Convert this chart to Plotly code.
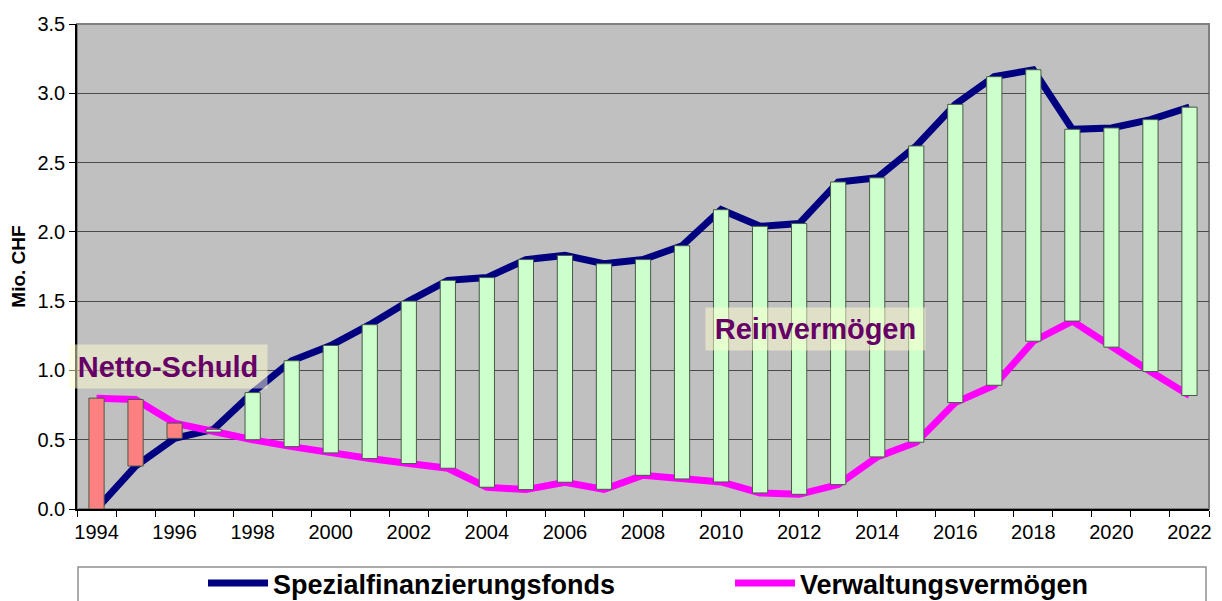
import plotly.graph_objects as go

# ---- data ----
years = list(range(1994, 2023))
spezialfinanzierungsfonds = [0.00, 0.31, 0.51, 0.575, 0.84, 1.07, 1.18, 1.33, 1.50, 1.65,
                             1.67, 1.80, 1.83, 1.77, 1.80, 1.90, 2.16, 2.04, 2.06, 2.36,
                             2.39, 2.62, 2.92, 3.12, 3.17, 2.74, 2.75, 2.81, 2.90]
verwaltungsvermoegen = [0.80, 0.79, 0.62, 0.555, 0.50, 0.45, 0.405, 0.364, 0.328, 0.294,
                        0.157, 0.14, 0.193, 0.142, 0.243, 0.217, 0.195, 0.116, 0.106, 0.176,
                        0.376, 0.482, 0.768, 0.893, 1.211, 1.356, 1.168, 0.992, 0.819]
y_ticks = [0.0, 0.5, 1.0, 1.5, 2.0, 2.5, 3.0, 3.5]
x_tick_years = list(range(1994, 2023, 2))

# ---- derived up/down bars ----
bar_base = [min(a, b) for a, b in zip(spezialfinanzierungsfonds, verwaltungsvermoegen)]
bar_len = [abs(a - b) for a, b in zip(spezialfinanzierungsfonds, verwaltungsvermoegen)]
bar_col = ['#FF8080' if b > a else '#CCFFCC'
           for a, b in zip(spezialfinanzierungsfonds, verwaltungsvermoegen)]

FONT = "Arial, Liberation Sans, sans-serif"
fig = go.Figure()

fig.add_trace(go.Scatter(x=years, y=spezialfinanzierungsfonds, mode='lines',
                         name='Spezialfinanzierungsfonds', legend='legend',
                         line=dict(color='#000080', width=7)))
fig.add_trace(go.Scatter(x=years, y=verwaltungsvermoegen, mode='lines',
                         name='Verwaltungsvermögen', legend='legend2',
                         line=dict(color='#FF00FF', width=7)))
fig.add_trace(go.Bar(x=years, y=bar_len, base=bar_base, width=0.39,
                     marker=dict(color=bar_col, line=dict(color='rgb(70,90,70)', width=1)),
                     showlegend=False, xaxis='x2', yaxis='y2', hoverinfo='skip'))

xrange = [1993.5, 2022.5]
yrange = [0, 3.5]

# page offset of 8px (default body margin) compensated in margins
OFF = 8
PW, PH, L, T = 1132, 485, 77, 24   # plot area in page pixels
def px_x(p):
    return (p - L) / PW
def px_y(p):
    return (T + PH - p) / PH

leg_common = dict(orientation='h', yanchor='top', xanchor='left',
                  font=dict(size=27, family=FONT, weight='bold'), itemwidth=60,
                  bgcolor='rgba(0,0,0,0)', borderwidth=0)

fig.update_layout(
    width=1222 - OFF, height=601 - OFF,
    margin=dict(l=L - OFF, r=13, t=T - OFF, b=92, autoexpand=False),
    paper_bgcolor='white', plot_bgcolor='#C0C0C0',
    font=dict(family=FONT, color='black'),
    xaxis=dict(range=xrange, tickvals=x_tick_years, ticks='', showgrid=False,
               showline=True, linecolor='black', linewidth=1.5,
               tickfont=dict(size=20), ticklabelstandoff=4,
               minor=dict(tickvals=[y + 0.5 for y in range(1993, 2023)],
                          ticks='outside', ticklen=6, tickcolor='black', showgrid=False),
               zeroline=False),
    yaxis=dict(range=yrange, tickvals=y_ticks, ticktext=[f"{v:.1f}" for v in y_ticks],
               ticks='outside', ticklen=6, tickcolor='black',
               showgrid=True, gridcolor='#4a4a4a', gridwidth=1,
               showline=True, linecolor='black', linewidth=1.5,
               tickfont=dict(size=20), zeroline=False,
               title=dict(text='<b>Mio. CHF</b>', font=dict(size=19), standoff=12)),
    xaxis2=dict(range=xrange, overlaying='x', visible=False),
    yaxis2=dict(range=yrange, overlaying='y', visible=False),
    barmode='overlay',
    showlegend=True,
    legend=dict(x=px_x(203), y=px_y(559), **leg_common),
    legend2=dict(x=px_x(730), y=px_y(559), **leg_common),
    shapes=[
        dict(type='rect', xref='paper', yref='paper', x0=0, x1=1, y0=0, y1=1,
             line=dict(color='#808080', width=2), layer='below'),
        dict(type='rect', xref='paper', yref='paper', x0=px_x(78), x1=px_x(1206),
             y0=px_y(567), y1=px_y(640), line=dict(color='#909090', width=1.5), layer='above'),
    ],
    annotations=[
        dict(text='<b>Netto-Schuld</b>', x=1995.83, y=1.028, xref='x', yref='y',
             showarrow=False, width=198, height=43, borderpad=0,
             bgcolor='rgba(255,255,208,0.5)', font=dict(size=29, color='#660066', family=FONT)),
        dict(text='<b>Reinvermögen</b>', x=2012.42, y=1.299, xref='x', yref='y',
             showarrow=False, width=219, height=42, borderpad=0,
             bgcolor='rgba(255,255,208,0.5)', font=dict(size=29, color='#660066', family=FONT)),
    ],
)

fig.write_html("out.html")
